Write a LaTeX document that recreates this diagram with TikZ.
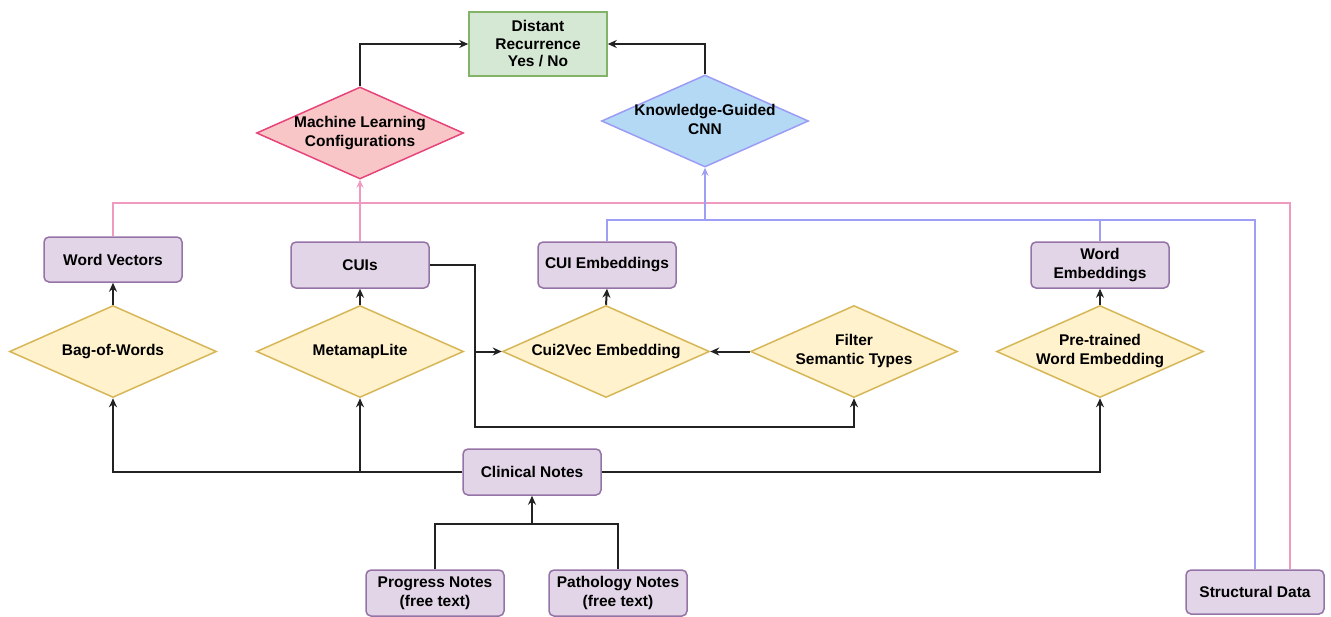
\documentclass[tikz,border=0pt]{standalone}
\usepackage{fontspec}
\setmainfont{Liberation Sans}
\usetikzlibrary{shapes.geometric,arrows.meta,calc}
\definecolor{pfill}{HTML}{E1D5E7}
\definecolor{pdraw}{HTML}{9673A6}
\definecolor{yfill}{HTML}{FFF2CC}
\definecolor{ydraw}{HTML}{D6B656}
\definecolor{gfill}{HTML}{D5E8D4}
\definecolor{gdraw}{HTML}{82B366}
\definecolor{rfill}{HTML}{F8C6C6}
\definecolor{rdraw}{HTML}{E6457A}
\definecolor{bfill}{HTML}{B3D9F5}
\definecolor{bdraw}{HTML}{9C9CF5}
\definecolor{pinkln}{HTML}{F09ABF}
\definecolor{blueln}{HTML}{9E9EF5}
\definecolor{lnblack}{HTML}{222222}
\newcommand{\dtext}[1]{\makebox[0pt]{\begin{tabular}{@{}c@{}}#1\end{tabular}}}
\begin{document}
\begin{tikzpicture}[x=1pt,y=-1pt,
  every node/.style={font=\bfseries\fontsize{15.5}{19}\selectfont, text=black},
  pbox/.style={draw=pdraw, fill=pfill, line width=1.5pt, rounded corners=5pt,
    minimum width=138pt, minimum height=45pt, align=center, inner sep=2pt},
  gbox/.style={draw=gdraw, fill=gfill, line width=1.5pt,
    minimum width=138pt, minimum height=64pt, align=center, inner sep=2pt,
    font=\bfseries\fontsize{15.5}{17.5}\selectfont},
  ydia/.style={diamond, draw=ydraw, fill=yfill, line width=1.5pt,
    minimum width=207pt, minimum height=92pt, inner sep=0pt},
  rdia/.style={ydia, draw=rdraw, fill=rfill},
  bdia/.style={ydia, draw=bdraw, fill=bfill},
  blk/.style={draw=lnblack, line width=2pt},
  arr/.style={blk, -{Stealth[length=9pt,width=8pt]}},
  pl/.style={draw=pinkln, line width=1.5pt},
  bl/.style={draw=blueln, line width=1.5pt},
  ctip/.style={-{Stealth[length=8pt,width=7pt]}},
]
\useasboundingbox (0,0) rectangle (1331,616);

% output and models
\node[gbox] (out) at (538,44) {Distant\\Recurrence\\Yes / No};
\node[rdia] (ml) at (360,133) {\dtext{Machine Learning\\Configurations}};
\node[bdia] (kg) at (705,121) {\dtext{Knowledge-Guided\\CNN}};

% feature boxes
\node[pbox, minimum height=45pt] (wv) at (113,259.5) {Word Vectors};
\node[pbox, minimum height=46pt] (cuis) at (360,265) {CUIs};
\node[pbox, minimum height=46pt] (cuie) at (607,265) {CUI Embeddings};
\node[pbox, minimum height=46pt] (we) at (1100,265) {Word\\Embeddings};

% processing diamonds
\node[ydia] (bow) at (113,351.5) {\dtext{Bag-of-Words}};
\node[ydia] (meta) at (360,351.5) {\dtext{MetamapLite}};
\node[ydia] (c2v) at (606,351.5) {\dtext{Cui2Vec Embedding}};
\node[ydia] (filt) at (854,351.5) {\dtext{Filter\\Semantic Types}};
\node[ydia] (pre) at (1100,351.5) {\dtext{Pre-trained\\Word Embedding}};

% sources
\node[pbox, minimum height=46pt] (cn) at (532,472) {Clinical Notes};
\node[pbox, minimum height=46pt] (prog) at (435,593) {Progress Notes\\(free text)};
\node[pbox, minimum height=46pt] (path) at (618,593) {Pathology Notes\\(free text)};
\node[pbox, minimum height=44pt] (sd) at (1255,592) {Structural Data};

% helper coordinates
\coordinate (pR) at (1290,203);
\coordinate (bR) at (1255,220);
\coordinate (cA) at (475,427);
\coordinate (nj) at (532,524);

% pink (machine learning) connectors
\draw[pl] (wv.north) |- (pR) -- (pR |- sd.north);
\draw[pl, ctip] (cuis.north) -- (ml.south);

% blue (CNN) connectors
\draw[bl] (cuie.north) |- (bR) -- (sd.north);
\draw[bl] (we.north) -- (we.north |- bR);
\draw[bl, ctip] (kg.south |- bR) -- (kg.south);

% black connectors
\draw[arr] (ml.north) |- (out.west);
\draw[arr] (kg.north) |- (out.east);
\draw[arr] (bow.north) -- (wv.south);
\draw[arr] (meta.north) -- (cuis.south);
\draw[arr] (c2v.north) -- (cuie.south);
\draw[arr] (pre.north) -- (we.south);
\draw[arr] (cuis.east) -| (cA) -| (filt.south);
\draw[arr] (cA |- c2v.west) -- (c2v.west);
\draw[arr] (filt.west) -- (c2v.east);
\draw[arr] (cn.west) -| (bow.south);
\draw[arr] (cn.west -| meta.south) -- (meta.south);
\draw[arr] (cn.east) -| (pre.south);
\draw[blk] (prog.north) |- (nj) -| (path.north);
\draw[arr] (nj) -- (cn.south);
\end{tikzpicture}
\end{document}
